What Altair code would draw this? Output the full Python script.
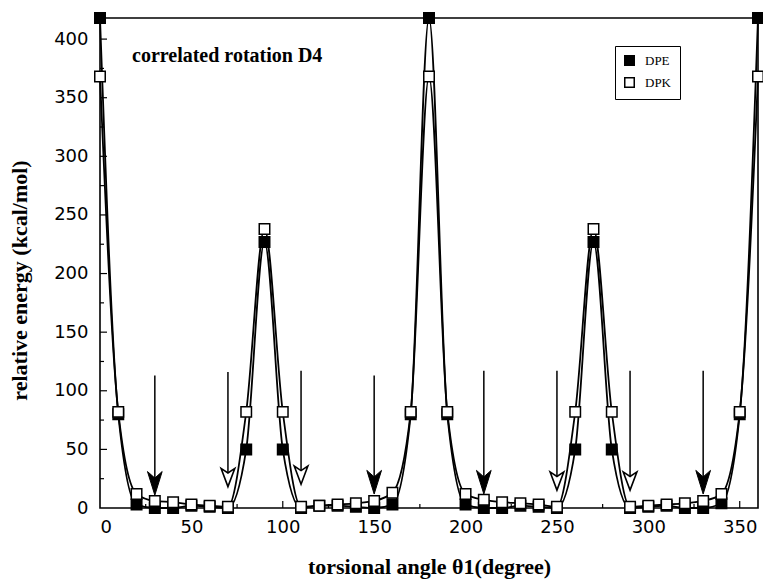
import altair as alt
import pandas as pd

# ---- data ----
angles = list(range(0, 361, 10))
dpe = [418, 80, 3, 0, 0, 2, 1, 0, 50, 227, 50, 0, 2, 2, 1, 0, 3, 80, 418,
       80, 3, 0, 0, 2, 1, 0, 50, 227, 50, 0, 1, 2, 0, 0, 4, 80, 418]
dpk = [368, 82, 12, 6, 5, 3, 2, 1, 82, 238, 82, 1, 2, 3, 4, 6, 13, 82, 368,
       82, 12, 7, 5, 4, 3, 1, 82, 238, 82, 1, 2, 3, 4, 6, 12, 82, 368]

x_major = [50, 100, 150, 200, 250, 300, 350]
x_minor = [25, 75, 125, 175, 225, 275, 325]
y_major = [50, 100, 150, 200, 250, 300, 350, 400]
y_minor = [25, 75, 125, 175, 225, 275, 325, 375]

x_labels = [0, 50, 100, 150, 200, 250, 300, 350]
y_labels = [0, 50, 100, 150, 200, 250, 300, 350, 400]

arrow_angles = [30, 70, 110, 150, 210, 250, 290, 330]
arrow_kind = ["filled", "open", "open", "filled", "filled", "open", "open", "filled"]
arrow_top = [113, 116, 117, 113, 117, 117, 117, 117]
arrow_head = [21, 26, 28, 22, 22, 23, 23, 22]

# ---- tables ----
df = pd.DataFrame({
    "angle": angles * 2,
    "energy": dpe + dpk,
    "series": ["DPE"] * len(angles) + ["DPK"] * len(angles),
})
arr = pd.DataFrame({"angle": arrow_angles, "kind": arrow_kind,
                    "top": arrow_top, "head": arrow_head})

W, H = 658, 490
xs = alt.Scale(domain=[0, 360], nice=False, zero=False)
ys = alt.Scale(domain=[0, 418], nice=False)

SANS = "DejaVu Sans"
SERIF = "Liberation Serif"

XAX = alt.Axis(
    values=x_labels, grid=False, ticks=False, tickSize=0, domain=False,
    labelFont=SANS, labelFontSize=18, labelColor="black", labelPadding=10,
    title="torsional angle θ1(degree)", titleFont=SERIF,
    titleFontWeight="bold", titleFontSize=22, titleColor="black",
    titleY=65, titleBaseline="alphabetic")
YAX = alt.Axis(
    values=y_labels, grid=False, ticks=False, tickSize=0, domain=False,
    labelFont=SANS, labelFontSize=18, labelColor="black", labelPadding=12,
    title="relative energy (kcal/mol)", titleFont=SERIF,
    titleFontWeight="bold", titleFontSize=22, titleColor="black",
    titleX=-74, titleY=262, titleBaseline="alphabetic")


def X(field):
    return alt.X(field, scale=xs, axis=XAX)


def Y(field):
    return alt.Y(field, scale=ys, axis=YAX)


lines = alt.Chart(df).mark_line(
    interpolate="monotone", color="black", strokeWidth=1.8
).encode(x=X("angle:Q"), y=Y("energy:Q"), detail="series:N")


def xticks(vals, length):
    return alt.Chart(pd.DataFrame({"v": vals})).mark_rule(
        color="black", strokeWidth=1.2
    ).encode(x=X("v:Q"), y=alt.value(H), y2=alt.value(H - length))


def yticks(vals, length):
    return alt.Chart(pd.DataFrame({"v": vals})).mark_rule(
        color="black", strokeWidth=1.2
    ).encode(y=Y("v:Q"), x=alt.value(0), x2=alt.value(length))


shafts = alt.Chart(arr).mark_rule(color="black", strokeWidth=1.5).encode(
    x=X("angle:Q"), y=Y("top:Q"), y2="head:Q")

head_filled = alt.Chart(arr).transform_filter(
    alt.datum.kind == "filled"
).mark_point(
    shape="M0,1 L-0.62,-1 L0,-0.45 L0.62,-1 Z", filled=True, fill="black",
    stroke="black", strokeWidth=1, size=560, opacity=1
).encode(x=X("angle:Q"), y=Y("head:Q"))

head_open = alt.Chart(arr).transform_filter(
    alt.datum.kind == "open"
).mark_point(
    shape="M0,1 L-0.75,-1 L0,-0.5 L0.75,-1 Z", filled=True, fill="white",
    stroke="black", strokeWidth=1.6, size=330, opacity=1
).encode(x=X("angle:Q"), y=Y("head:Q"))

points = alt.Chart(df).mark_square(
    stroke="black", strokeWidth=1.5, size=110, opacity=1
).encode(
    x=X("angle:Q"),
    y=Y("energy:Q"),
    fill=alt.Fill("series:N", scale=alt.Scale(domain=["DPE", "DPK"],
                                              range=["black", "white"]),
                  legend=alt.Legend(
                      title=None, orient="none", legendX=515, legendY=28,
                      strokeColor="black", padding=8, labelFont=SERIF,
                      labelFontSize=13, labelColor="black", symbolType="square",
                      symbolSize=90, symbolStrokeColor="black",
                      symbolStrokeWidth=1.5, rowPadding=5, labelOffset=9)),
)

title = alt.Chart(pd.DataFrame({"t": ["correlated rotation D4"]})).mark_text(
    align="left", baseline="alphabetic", font=SERIF, fontWeight="bold",
    fontSize=20, color="black"
).encode(text="t:N", x=alt.value(32), y=alt.value(44))

chart = alt.layer(
    lines, xticks(x_major, 7), xticks(x_minor, 4), yticks(y_major, 7),
    yticks(y_minor, 4), shafts, head_filled, head_open, points, title
).properties(
    width=W, height=H,
    autosize=alt.AutoSizeParams(type="none"),
    padding={"left": 100, "top": 18, "right": 5, "bottom": 73},
    background="white",
).configure_view(stroke="black", strokeWidth=1.6)

chart.save("out.html", embed_options={"renderer": "svg", "actions": False})
